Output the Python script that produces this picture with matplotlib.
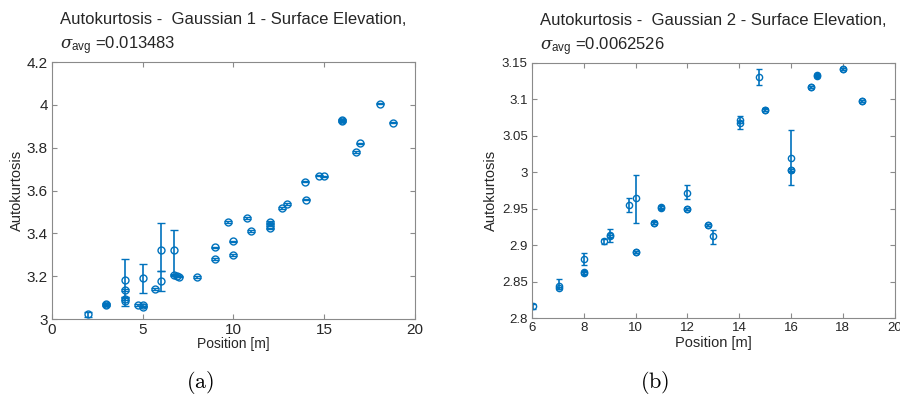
import matplotlib
matplotlib.use("Agg")
from matplotlib import pyplot as plt

# ---- panel (a): Gaussian 1 ----
pos_a = [2.0, 3.0, 3.0, 4.0, 4.0, 4.0, 4.0, 4.74, 5.0, 5.0, 5.0, 5.66,
         6.0, 6.0, 6.72, 6.72, 6.9, 7.0, 7.97, 8.97, 8.97, 9.7, 10.0, 10.0,
         10.73, 10.99, 12.0, 12.0, 12.0, 12.7, 12.98, 13.94, 14.0, 14.72, 15.0,
         16.0, 16.0, 16.74, 17.0, 18.06, 18.78]
kurt_a = [3.023, 3.07, 3.066, 3.183, 3.136, 3.086, 3.092, 3.064, 3.064, 3.058, 3.19, 3.139,
          3.32, 3.177, 3.32, 3.205, 3.2, 3.198, 3.197, 3.334, 3.28, 3.453, 3.3625, 3.3,
          3.472, 3.4125, 3.452, 3.4375, 3.423, 3.519, 3.536, 3.642, 3.558, 3.67, 3.666,
          3.93, 3.926, 3.78, 3.82, 4.006, 3.917]
lo_a = [0.012, 0.004, 0.004, 0.08, 0.004, 0.025, 0.004, 0.004, 0.004, 0.004, 0.07, 0.004,
        0.098, 0.046, 0.114, 0.004, 0.004, 0.004, 0.004, 0.004, 0.004, 0.004, 0.004, 0.004,
        0.004, 0.004, 0.004, 0.004, 0.004, 0.004, 0.004, 0.004, 0.004, 0.004, 0.004,
        0.004, 0.004, 0.004, 0.004, 0.004, 0.004]
hi_a = [0.012, 0.004, 0.004, 0.097, 0.004, 0.019, 0.004, 0.004, 0.004, 0.004, 0.066, 0.004,
        0.13, 0.045, 0.097, 0.004, 0.004, 0.004, 0.004, 0.004, 0.004, 0.004, 0.004, 0.004,
        0.004, 0.004, 0.004, 0.004, 0.004, 0.004, 0.004, 0.004, 0.004, 0.004, 0.004,
        0.004, 0.004, 0.004, 0.004, 0.004, 0.004]

# ---- panel (b): Gaussian 2 ----
pos_b = [6.03, 7.03, 7.03, 8.0, 8.0, 8.0, 8.8, 9.0, 9.0, 9.74, 10.0, 10.0, 10.0,
         10.73, 10.73, 11.0, 11.0, 12.0, 12.0, 12.0, 12.79, 12.79, 13.0, 14.03, 14.03,
         14.76, 15.01, 15.01, 16.0, 16.0, 16.0, 16.76, 16.76, 17.01, 17.01, 18.0, 18.0,
         18.74, 18.74]
kurt_b = [2.816, 2.844, 2.841, 2.881, 2.8625, 2.8615, 2.905, 2.914, 2.912, 2.9555, 2.9647, 2.891, 2.8905,
          2.931, 2.9305, 2.952, 2.9515, 2.972, 2.95, 2.9495, 2.928, 2.9275, 2.912, 3.071, 3.068,
          3.131, 3.086, 3.0855, 3.019, 3.003, 3.0025, 3.117, 3.1165, 3.133, 3.1325, 3.142, 3.1415,
          3.098, 3.0975]
lo_b = [0.003, 0.004, 0.0015, 0.008, 0.0015, 0.0015, 0.003, 0.01, 0.0015, 0.0095, 0.034, 0.0015, 0.0015,
        0.0015, 0.0015, 0.0015, 0.0015, 0.009, 0.0015, 0.0015, 0.0015, 0.0015, 0.01, 0.003, 0.008,
        0.011, 0.0015, 0.0015, 0.037, 0.0015, 0.0015, 0.0015, 0.0015, 0.0015, 0.0015, 0.0015, 0.0015,
        0.0015, 0.0015]
hi_b = [0.003, 0.009, 0.0015, 0.008, 0.0015, 0.0015, 0.003, 0.008, 0.0015, 0.0085, 0.031, 0.0015, 0.0015,
        0.0015, 0.0015, 0.0015, 0.0015, 0.01, 0.0015, 0.0015, 0.0015, 0.0015, 0.009, 0.006, 0.002,
        0.011, 0.0015, 0.0015, 0.039, 0.0015, 0.0015, 0.0015, 0.0015, 0.0015, 0.0015, 0.0015, 0.0015,
        0.0015, 0.0015]

titles = ["Autokurtosis -  Gaussian 1 - Surface Elevation,\n$\\sigma_{\\mathsf{avg}}$ =0.013483",
          "Autokurtosis -  Gaussian 2 - Surface Elevation,\n$\\sigma_{\\mathsf{avg}}$ =0.0062526"]
yticks_a = [3, 3.2, 3.4, 3.6, 3.8, 4, 4.2]
ylabels_a = ["3", "3.2", "3.4", "3.6", "3.8", "4", "4.2"]
yticks_b = [2.8, 2.85, 2.9, 2.95, 3, 3.05, 3.1, 3.15]
ylabels_b = ["2.8", "2.85", "2.9", "2.95", "3", "3.05", "3.1", "3.15"]

plt.rcParams['font.family'] = ['Liberation Sans', 'DejaVu Sans']
plt.rcParams['mathtext.fontset'] = 'custom'
plt.rcParams['mathtext.sf'] = 'Liberation Sans'
plt.rcParams['mathtext.it'] = 'DejaVu Serif:italic'

BLUE = '#0072BD'
EDGE = '#8a8a8a'
TXT = '#262626'

fig = plt.figure(figsize=(9, 4.03), dpi=100)
ax1 = fig.add_axes([0.0578, 0.2084, 0.403, 0.6377])
ax2 = fig.add_axes([0.591, 0.2109, 0.403, 0.633])

def style(ax, fs):
    for s in ax.spines.values():
        s.set_color(EDGE)
        s.set_linewidth(0.8)
    ax.tick_params(direction='in', top=True, right=True, length=3.5, width=0.8,
                   color=EDGE, labelcolor=TXT, labelsize=fs, pad=3)

# (a)
ax1.errorbar(pos_a, kurt_a, yerr=[lo_a, hi_a], fmt='o', color=BLUE, mfc='none',
             ms=5, mew=1.0, elinewidth=1.2, capsize=3, capthick=1.0)
ax1.set_xlim(0, 20)
ax1.set_ylim(3, 4.2)
ax1.set_xticks([0, 5, 10, 15, 20])
ax1.set_yticks(yticks_a)
ax1.set_yticklabels(ylabels_a)
style(ax1, 11)
ax1.set_xlabel("Position [m]", fontsize=10, color=TXT, labelpad=0)
ax1.set_ylabel("Autokurtosis", fontsize=10.5, color=TXT, labelpad=2)
ax1.set_title(titles[0], fontsize=12, color=TXT, multialignment='left', pad=9,
              linespacing=1.5)

# (b)
ax2.errorbar(pos_b, kurt_b, yerr=[lo_b, hi_b], fmt='o', color=BLUE, mfc='none',
             ms=4.5, mew=1.0, elinewidth=1.2, capsize=2.5, capthick=1.0)
ax2.set_xlim(6, 20)
ax2.set_ylim(2.8, 3.15)
ax2.set_xticks(range(6, 21, 2))
ax2.set_yticks(yticks_b)
ax2.set_yticklabels(ylabels_b)
style(ax2, 9.5)
ax2.set_xlabel("Position [m]", fontsize=10.5, color=TXT, labelpad=1)
ax2.set_ylabel("Autokurtosis", fontsize=10.5, color=TXT, labelpad=3)
ax2.set_title(titles[1], fontsize=12, color=TXT, multialignment='left', pad=9,
              linespacing=1.5)

fig.text(0.222, 0.05, "$\\mathrm{(a)}$", fontsize=16, math_fontfamily='cm',
         ha='center', va='center')
fig.text(0.728, 0.05, "$\\mathrm{(b)}$", fontsize=16, math_fontfamily='cm',
         ha='center', va='center')

fig.savefig("out.png", dpi=100)
